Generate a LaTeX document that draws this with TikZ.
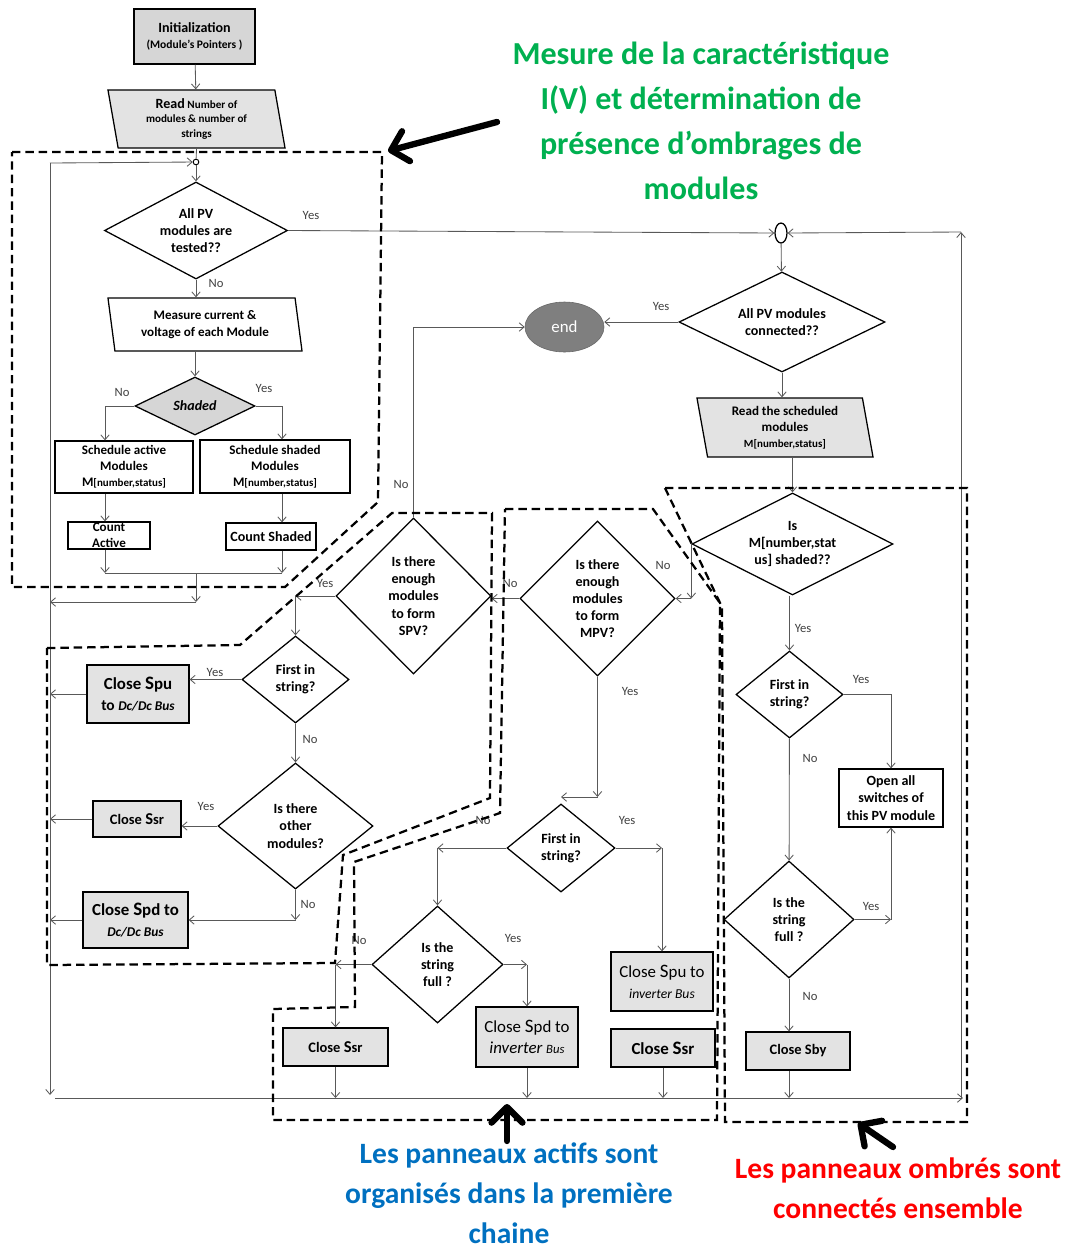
\documentclass[tikz,border=0pt]{standalone}
\usepackage{fontspec}
\setmainfont{Carlito}
\usetikzlibrary{positioning, arrows.meta, shapes.geometric, backgrounds}
\definecolor{lineGray}{HTML}{595959}
\definecolor{boxGray}{HTML}{E3E3E3}
\definecolor{initGray}{HTML}{D6D6D6}
\definecolor{endGray}{HTML}{7F7F7F}
\definecolor{noteGreen}{HTML}{00B050}
\definecolor{noteBlue}{HTML}{0070C0}
\definecolor{noteRed}{HTML}{FF0000}
\newcommand{\flowfont}{\fontsize{9.3}{11.5}\selectfont}
\newcommand{\bigS}{\fontsize{13.5}{14}\selectfont S}
\newcommand{\midS}{\fontsize{11.8}{12}\selectfont S}

\begin{document}
\begin{tikzpicture}[x=0.025cm, y=-0.025cm,
    box/.style={draw, line width=0.9pt, align=center, inner sep=1pt, font=\flowfont\bfseries},
    gbox/.style={box, fill=boxGray},
    sbox/.style={gbox, font=\fontsize{10.3}{12}\selectfont\bfseries},
    io/.style={trapezium, trapezium left angle=103, trapezium right angle=77, trapezium stretches body,
      draw, line width=0.9pt, align=center, inner sep=1pt, font=\flowfont\bfseries},
    dec/.style={diamond, draw, line width=0.9pt, align=center, inner sep=0pt, font=\fontsize{10}{12.2}\selectfont\bfseries},
    arr/.style={->, >={Straight Barb[length=3.5pt, width=6pt]}, lineGray, line width=0.6pt},
    wire/.style={lineGray, line width=0.6pt},
    lbl/.style={font=\fontsize{9}{10}\selectfont, text=black!75, inner sep=0pt},
    zone/.style={line width=1.6pt, dash pattern=on 6pt off 3.5pt},
    pointer/.style={line width=4.5pt, line cap=round, -{Straight Barb[length=11pt, width=22pt, round]}},
    note/.style={align=center, inner sep=0pt},
  ]
    \useasboundingbox (0,0) rectangle (1067,1252);

    % measurement column
    \node[box, fill=initGray, font=\fontsize{10}{12}\selectfont\bfseries, minimum width=3.025cm, minimum height=1.375cm] (init) at (194.5,36.5)
      {Initialization\\[-1pt]{\fontsize{8.2}{9}\selectfont(Module’s Pointers )}};
    \node[io, fill=boxGray, font=\fontsize{7.9}{10.5}\selectfont\bfseries, minimum width=4.425cm, minimum height=1.45cm] (read) at (196.5,119)
      {{\fontsize{10}{10}\selectfont Read} Number of\\modules \& number of\\strings};
    \node[circle, draw, line width=0.7pt, inner sep=0pt, minimum size=4pt] (jtop) at (196,162) {};
    \node[dec, minimum width=4.575cm, minimum height=2.425cm, aspect=1.89] (tested) at (196,230.5) {All PV\\modules are\\tested??};
    \node[io, minimum width=4.85cm, minimum height=1.325cm] (meas) at (205,324.5) {Measure current \&\\voltage of each Module};
    \node[dec, fill=initGray, minimum width=3cm, minimum height=1.45cm, aspect=2.07] (shd) at (195,406) {\textit{Shaded}};
    \node[box, minimum width=3.45cm, minimum height=1.3cm] (sact) at (124,467)
      {Schedule active\\Modules\\M{\fontsize{7.8}{9}\selectfont[number,status]}};
    \node[box, minimum width=3.75cm, minimum height=1.325cm] (sshd) at (275,466.5)
      {Schedule shaded\\Modules\\M{\fontsize{7.8}{9}\selectfont[number,status]}};
    \node[box, minimum width=2.05cm, minimum height=0.675cm, inner sep=0pt] (cact) at (109,535.5) {Count\\Active};
    \node[box, font=\fontsize{10}{12}\selectfont\bfseries, minimum width=2.25cm, minimum height=0.675cm] (cshd) at (271,536.5) {Count Shaded};

    % connection column
    \node[ellipse, draw, line width=0.9pt, inner sep=0pt, minimum width=0.3cm, minimum height=0.5cm] (jr) at (781,233) {};
    \node[dec, minimum width=5.15cm, minimum height=2.5cm, aspect=2.06] (conn) at (782,322) {All PV modules\\connected??};
    \node[ellipse, fill=endGray, draw=endGray!80!black, text=white, font=\fontsize{12}{14}\selectfont,
      minimum width=1.975cm, minimum height=1.25cm] (finish) at (564.5,327) {end};
    \node[io, fill=boxGray, minimum width=4.4cm, minimum height=1.475cm] (rsch) at (785,427.5)
      {Read the scheduled\\modules\\{\fontsize{7.8}{9}\selectfont M[number,status]}};
    \node[dec, minimum width=5.025cm, minimum height=2.55cm, aspect=1.97] (ishd) at (792.5,544) {Is\\M[number,stat\\us] shaded??};
    \node[dec, minimum width=2.675cm, minimum height=2.175cm, aspect=1.23] (fisR) at (789.5,694.5) {First in\\string?};
    \node[box, font=\fontsize{10}{12.2}\selectfont\bfseries, minimum width=2.6cm, minimum height=1.45cm] (open) at (891,798)
      {Open all\\switches of\\this PV module};
    \node[dec, minimum width=3.25cm, minimum height=2.925cm, aspect=1.11] (fullR) at (789,919.5) {Is the\\string\\full ?};
    \node[sbox, minimum width=2.6cm, minimum height=0.95cm] (sby) at (798,1051) {Close Sby};

    % string decisions
    \node[dec, minimum width=3.875cm, minimum height=3.9cm, aspect=1] (spv) at (413.5,596) {Is there\\enough\\modules\\to form\\SPV?};
    \node[dec, minimum width=3.875cm, minimum height=3.875cm, aspect=1] (mpv) at (597.5,598.5) {Is there\\enough\\modules\\to form\\MPV?};
    \node[dec, minimum width=2.675cm, minimum height=2.175cm, aspect=1.23] (fisL) at (295.5,679.5) {First in\\string?};
    \node[gbox, font=\fontsize{11}{15.5}\selectfont\bfseries, minimum width=2.55cm, minimum height=1.45cm] (spuDc) at (138,694)
      {{\fontsize{12}{14}\selectfont Close {\bigS}pu}\\to {\fontsize{9.5}{10}\selectfont\itshape Dc/Dc Bus}};
    \node[dec, minimum width=3.875cm, minimum height=3.15cm, aspect=1.23] (other) at (295.5,826) {Is there\\other\\modules?};
    \node[sbox, minimum width=2.2cm, minimum height=0.9cm] (ssrL) at (137,819) {Close {\midS}sr};
    \node[gbox, font=\fontsize{12}{15.5}\selectfont\bfseries, minimum width=2.625cm, minimum height=1.4cm] (spdDc) at (135.5,920)
      {Close {\bigS}pd to\\{\fontsize{9.5}{10}\selectfont\itshape Dc/Dc Bus}};
    \node[dec, minimum width=2.7cm, minimum height=2.2cm, aspect=1.23] (fisM) at (561,848) {First in\\string?};
    \node[dec, minimum width=3.275cm, minimum height=2.925cm, aspect=1.12] (fullM) at (437.5,964.5) {Is the\\string\\full ?};
    \node[gbox, font=\fontsize{12}{15}\selectfont, minimum width=2.55cm, minimum height=1.475cm] (spuInv) at (662,981.5)
      {Close {\bigS}pu to\\{\fontsize{9.7}{10}\selectfont\itshape inverter Bus}};
    \node[sbox, minimum width=2.625cm, minimum height=0.95cm] (ssrM) at (335.5,1047) {Close {\midS}sr};
    \node[gbox, font=\fontsize{12}{15}\selectfont, minimum width=2.55cm, minimum height=1.5cm] (spdInv) at (527,1037)
      {Close {\bigS}pd to\\{\itshape\fontsize{12}{12}\selectfont inverter {\fontsize{9}{10}\selectfont Bus}}};
    \node[gbox, font=\fontsize{12}{14}\selectfont\bfseries, minimum width=2.6cm, minimum height=0.95cm] (ssrR) at (663,1048)
      {Close {\bigS}sr};

    \coordinate (lt) at (50,163);
    \coordinate (lb) at (50,1095);
    \coordinate (bl) at (55,1098);
    \coordinate (br) at (963,1098);
    \coordinate (rt) at (961,232);
    \coordinate (xA) at (105,0);
    \coordinate (xB) at (282,0);
    \coordinate (mrg) at (196,573);
    \coordinate (back) at (196,602);

    % measurement flow
    \draw[arr] (init) -- (read);
    \draw[wire] (read.south) -- (jtop);
    \draw[arr] (jtop) -- (tested);
    \draw[arr] (lt) -- (jtop);
    \draw[arr] (lt) -- (lb);
    \draw[arr] (tested.east) -- (jr.west);
    \node[lbl] at (311,215) {Yes};
    \draw[arr] (tested.south) -- (tested.south |- meas.north);
    \node[lbl] at (216,283) {No};
    \draw[arr] (meas.south -| shd.north) -- (shd.north);
    \draw[arr] (shd.west) -| (sact.north -| xA);
    \draw[arr] (shd.east) -| (sshd.north -| xB);
    \node[lbl] at (122,392) {No};
    \node[lbl] at (264,388) {Yes};
    \draw[arr] (sact.south -| xA) -- (cact.north -| xA);
    \draw[arr] (sshd.south -| xB) -- (cshd.north -| xB);
    \draw[arr] (cact.south -| xA) -- (mrg -| xA);
    \draw[arr] (cshd.south -| xB) -- (mrg -| xB);
    \draw[wire] (mrg -| xA) -- (mrg -| xB);
    \draw[arr] (mrg) -- (back);
    \draw[arr] (back) -- (back -| lt);

    % connection flow
    \draw[arr] (bl) -- (br);
    \draw[arr] (br -| rt) -- (rt);
    \draw[arr] (rt) -- (jr.east);
    \draw[arr] (jr) -- (conn);
    \draw[arr] (conn.west) -- (conn.west -| finish.east);
    \node[lbl] at (661,306) {Yes};
    \draw[arr] (conn.south) -- (conn.south |- rsch.north);
    \draw[arr] (rsch.south -| ishd.north) -- (ishd.north);
    \coordinate (iw) at (ishd.west |- mpv.east);
    \draw[arr] (ishd.west) -- (iw);
    \draw[arr] (iw) -- (mpv.east);
    \node[lbl] at (663,565) {No};
    \draw[arr] (ishd.south -| fisR.north) -- (fisR.north);
    \node[lbl] at (803,628) {Yes};
    \draw[arr] (fisR.east) -| (open.north);
    \node[lbl] at (861,679) {Yes};
    \draw[arr] (fisR) -- (fullR);
    \node[lbl] at (810,758) {No};
    \coordinate (fy) at (open.south |- fullR.east);
    \draw[arr] (fullR.east) -- (fy);
    \draw[arr] (fy) -- (open.south);
    \node[lbl] at (871,906) {Yes};
    \draw[arr] (fullR.south) -- (fullR.south |- sby.north);
    \node[lbl] at (810,996) {No};
    \draw[arr] (sby.south -| fullR.south) -- (bl -| fullR.south);

    % string flow
    \draw[arr] (mpv.west) -- (mpv.west -| spv.east);
    \node[lbl] at (510,583) {No};
    \draw[arr] (spv.north) |- (finish.west);
    \node[lbl] at (401,484) {No};
    \coordinate (mp) at (mpv.south |- 0,797);
    \draw[arr] (mpv.south) -- (mp);
    \draw[arr] (mp) -- (mp -| fisM.north);
    \node[lbl] at (630,691) {Yes};
    \coordinate (fe) at (fisM.east -| spuInv.north);
    \draw[arr] (fisM.east) -- (fe);
    \draw[arr] (fe) -- (spuInv.north);
    \node[lbl] at (627,820) {Yes};
    \coordinate (fw) at (fisM.west -| fullM.north);
    \draw[arr] (fisM.west) -- (fw);
    \draw[arr] (fw) -- (fullM.north);
    \node[lbl] at (483,820) {No};
    \coordinate (ge) at (fullM.east -| spdInv.north);
    \draw[arr] (fullM.east) -- (ge);
    \draw[arr] (ge) -- (spdInv.north);
    \node[lbl] at (513,938) {Yes};
    \coordinate (gw) at (fullM.west -| ssrM.north);
    \draw[arr] (fullM.west) -- (gw);
    \draw[arr] (gw) -- (ssrM.north);
    \node[lbl] at (359,940) {No};
    \draw[arr] (ssrM.south) -- (bl -| ssrM.south);
    \draw[arr] (spdInv.south) -- (bl -| spdInv.south);
    \draw[arr] (ssrR.south) -- (bl -| ssrR.south);

    \coordinate (sw) at (spv.west -| fisL.north);
    \draw[arr] (spv.west) -- (sw);
    \draw[arr] (sw) -- (fisL.north);
    \node[lbl] at (325,583) {Yes};
    \draw[arr] (fisL.west) -- (fisL.west -| spuDc.east);
    \node[lbl] at (215,672) {Yes};
    \draw[arr] (spuDc.west) -- (spuDc.west -| lt);
    \draw[arr] (fisL) -- (other);
    \node[lbl] at (310,739) {No};
    \draw[arr] (other.west) -- (other.west -| ssrL.east);
    \node[lbl] at (206,806) {Yes};
    \draw[arr] (ssrL.west) -- (ssrL.west -| lt);
    \coordinate (ob) at (other.south |- spdDc.east);
    \draw[arr] (other.south) -- (ob);
    \draw[arr] (ob) -- (spdDc.east);
    \node[lbl] at (308,904) {No};
    \draw[arr] (spdDc.west) -- (spdDc.west -| lt);

    % dashed zones
    \draw[zone] (12,152) -- (382,152) -- (378,502) -- (285,587) -- (12,587) -- cycle;
    \draw[zone] (47,648) -- (240,645) -- (392,513) -- (492,513) -- (490,798) -- (343,855) -- (335,963) -- (47,965) -- cycle;
    \draw[zone] (505,509) -- (653,509) -- (720,603) -- (717,1120) -- (273,1120) -- (273,1009) -- (355,1007) -- (354,862) -- (500,813) -- cycle;
    \draw[zone] (665,488) -- (967,488) -- (967,1122) -- (725,1122) -- (722,607) -- cycle;

    % captions
    \draw[pointer] (497,122) -- (388,151);
    \draw[pointer] (507,1141) -- (507,1104);
    \draw[pointer] (893,1147) -- (858,1123);
    \node[note, text=noteGreen, font=\fontsize{22.8}{32}\selectfont\bfseries] (capMes) at (701,121)
      {Mesure de la caractéristique\\I(V) et détermination de\\présence d’ombrages de\\modules};
    \node[note, text=noteBlue, font=\fontsize{21}{28.5}\selectfont\bfseries] (capAct) at (509,1193)
      {Les panneaux actifs sont\\organisés dans la première\\chaine};
    \node[note, text=noteRed, font=\fontsize{21}{28.5}\selectfont\bfseries] (capOmb) at (898,1188)
      {Les panneaux ombrés sont\\connectés ensemble};
\end{tikzpicture}
\end{document}
